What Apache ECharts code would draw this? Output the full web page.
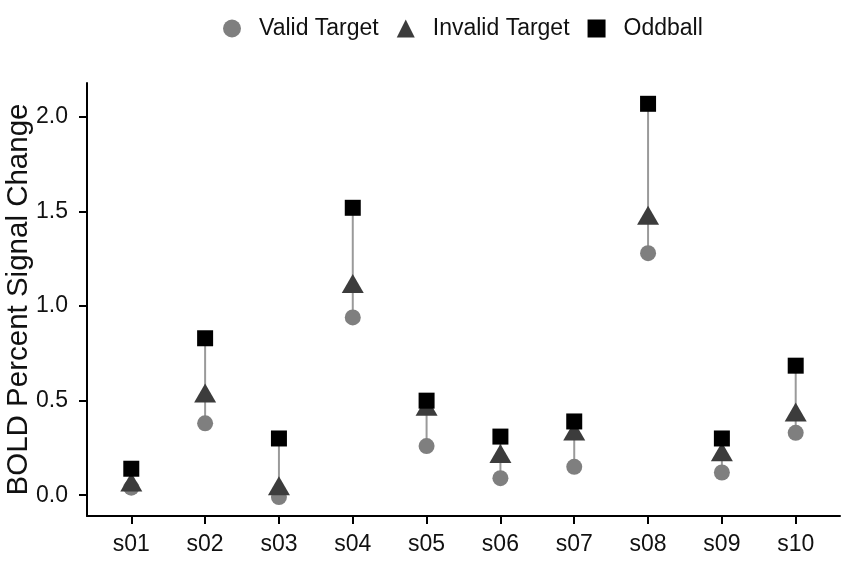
<!DOCTYPE html>
<html><head><meta charset="utf-8">
<script src="https://cdn.jsdelivr.net/npm/echarts@6/dist/echarts.min.js"></script>
<style>html,body{margin:0;padding:0;background:#fff}#c{width:850px;height:565px}</style>
</head><body><div id="c"></div>
<script>
const categories = ['s01','s02','s03','s04','s05','s06','s07','s08','s09','s10'];
const validTarget   = [0.04, 0.38, -0.01, 0.94, 0.26, 0.09, 0.15, 1.28, 0.12, 0.33];
const invalidTarget = [0.07, 0.54, 0.05, 1.12, 0.47, 0.22, 0.34, 1.48, 0.23, 0.44];
const oddball       = [0.14, 0.83, 0.30, 1.52, 0.50, 0.31, 0.39, 2.07, 0.30, 0.685];
const yTicks = [0, 0.5, 1.0, 1.5, 2.0];

const xPos = categories.map((c, i) => i + 1);
const toPts = arr => arr.map((v, i) => [xPos[i], v]);
const ranges = categories.map((c, i) => {
  const vals = [validTarget[i], invalidTarget[i], oddball[i]];
  return [xPos[i], Math.min(...vals), Math.max(...vals)];
});

const font = 'Liberation Sans, Arial, sans-serif';
const chart = echarts.init(document.getElementById('c'));
chart.setOption({
  animation: false,
  backgroundColor: '#fff',
  textStyle: { fontFamily: font },
  legend: {
    top: 12, left: 218, itemGap: 18, itemWidth: 18, itemHeight: 18,
    textStyle: { fontSize: 23, color: '#111', fontFamily: font, padding: [0, 0, 0, 13] },
    data: ['Valid Target', 'Invalid Target', 'Oddball']
  },
  grid: { left: 87, right: 10, top: 83, bottom: 49, outerBoundsMode: 'none', containLabel: false },
  xAxis: {
    type: 'value', min: 0.4, max: 10.6,
    splitLine: { show: false },
    axisLine: { onZero: false, lineStyle: { color: '#000', width: 2 } },
    axisTick: { length: 8, lineStyle: { color: '#000', width: 2 }, customValues: xPos },
    axisLabel: {
      customValues: xPos, margin: 17, fontSize: 23, color: '#111', fontFamily: font,
      formatter: v => categories[Math.round(v) - 1] || ''
    }
  },
  yAxis: {
    type: 'value', min: -0.11, max: 2.18,
    name: 'BOLD Percent Signal Change', nameLocation: 'middle', nameGap: 53,
    nameMoveOverlap: false,
    nameTextStyle: { fontSize: 29.5, color: '#111', fontFamily: font },
    splitLine: { show: false },
    axisLine: { show: true, onZero: false, lineStyle: { color: '#000', width: 2 } },
    axisTick: { show: true, length: 8, lineStyle: { color: '#000', width: 2 }, customValues: yTicks },
    axisLabel: {
      customValues: yTicks, margin: 19, fontSize: 23, color: '#111', fontFamily: font,
      formatter: v => v.toFixed(1)
    }
  },
  series: [
    {
      type: 'custom', name: 'range', silent: true, z: 1,
      data: ranges,
      renderItem: (params, api) => {
        const p1 = api.coord([api.value(0), api.value(1)]);
        const p2 = api.coord([api.value(0), api.value(2)]);
        return { type: 'line', shape: { x1: p1[0], y1: p1[1], x2: p2[0], y2: p2[1] },
                 style: { stroke: '#9a9a9a', lineWidth: 2 } };
      }
    },
    { type: 'scatter', name: 'Valid Target', symbol: 'circle', symbolSize: 16, z: 2,
      itemStyle: { color: '#7f7f7f', opacity: 1 }, data: toPts(validTarget) },
    { type: 'scatter', name: 'Invalid Target', symbol: 'triangle', symbolSize: [22, 19], z: 3,
      itemStyle: { color: '#3c3c3c', opacity: 1 }, data: toPts(invalidTarget) },
    { type: 'scatter', name: 'Oddball', symbol: 'rect', symbolSize: 16, z: 4,
      itemStyle: { color: '#000', opacity: 1 }, data: toPts(oddball) }
  ]
});
</script></body></html>
